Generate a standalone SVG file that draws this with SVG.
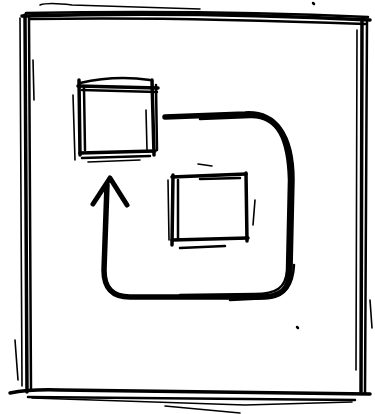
<svg xmlns="http://www.w3.org/2000/svg" width="375" height="414" viewBox="0 0 375 414">
<style>
path{fill:none;stroke:#000;stroke-linecap:round;stroke-linejoin:round}
.w1{stroke-width:1.6}
.w2{stroke-width:2.5}
.w3{stroke-width:3.5}
.w5{stroke-width:5.5}
</style>
<rect width="375" height="414" fill="#fff"/>
<g id="frame">
<path class="w3" d="M22,16 C120,13 250,14 370,20"/>
<path class="w2" d="M26,13 C130,11 260,12 368,17"/>
<path class="w1" d="M40,5 Q48,2 72,5 L200,9"/>
<path class="w2" d="M30,19 C150,17 260,20 365,24"/>
<path class="w3" d="M25,15 L27,392"/>
<path class="w2" d="M29,17 L31,390"/>
<path class="w1" d="M20,18 L22,386"/>
<path class="w1" d="M33,60 L34,100"/>
<path class="w1" d="M15,340 L18,380"/>
<path class="w3" d="M10,393 Q30,389 60,390 L370,394"/>
<path class="w2" d="M28,397 L355,400"/>
<path class="w1" d="M32,398 L245,405 L352,402"/>
<path class="w1" d="M165,406 L240,413"/>
<path class="w3" d="M362,18 L361,392"/>
<path class="w2" d="M367,20 L365,393"/>
<path class="w1" d="M357,30 L356,370"/>
<path class="w1" d="M370,300 L372,328"/>
<path class="w2" d="M313,3 L314,4"/>
<path class="w2" d="M297,327 L298,328"/>
</g>
<g id="box1">
<path class="w2" d="M80,83 Q115,75 150,80"/>
<path class="w3" d="M78,86 L158,88"/>
<path class="w2" d="M82,90 L157,92"/>
<path class="w3" d="M79,80 L80,155"/>
<path class="w1" d="M73,95 L75,160"/>
<path class="w2" d="M84,88 L85,150"/>
<path class="w3" d="M152,80 L154,155"/>
<path class="w2" d="M156,85 L157,150"/>
<path class="w1" d="M146,110 L147,150"/>
<path class="w3" d="M80,153 L155,151"/>
<path class="w2" d="M82,158 L150,156"/>
<path class="w1" d="M88,162 L140,160"/>
</g>
<g id="box2">
<path class="w3" d="M172,177 L246,174"/>
<path class="w1" d="M198,164 L212,166"/>
<path class="w2" d="M200,179 L240,178"/>
<path class="w3" d="M173,175 L172,245"/>
<path class="w1" d="M168,180 L169,240"/>
<path class="w2" d="M178,180 L178,240"/>
<path class="w3" d="M246,173 L247,241"/>
<path class="w1" d="M255,200 L253,225"/>
<path class="w3" d="M172,240 L248,238"/>
<path class="w2" d="M180,248 L225,246"/>
</g>
<g id="connectors">
<path class="w5" d="M165,117 L245,114 C275,112 292,135 292,180 L290,270 C290,290 280,297 260,297 L130,297 C112,297 104,288 104,270 L107,185"/>
<path class="w2" d="M200,119 L250,117 C278,116 288,140 289,180 L287,270 C286,288 276,294 255,294 L180,295"/>
<path class="w2" d="M230,300 L270,298 C286,296 293,285 294,265"/>
<path style="stroke-width:5" d="M93,204 L110,178 L127,205"/>
</g>
</svg>
